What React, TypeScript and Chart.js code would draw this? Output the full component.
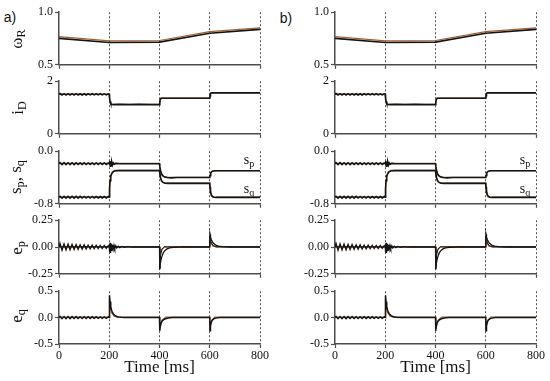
import React, { useEffect, useRef } from "react";
import { Chart, registerables } from "chart.js";
Chart.register(...registerables);

const BLACK = "#141414";
const BROWN = "#a65e2e";
const AXIS = "#4d4d4d";
const SERIF = "'Liberation Serif', 'DejaVu Serif', serif";

const xTickValues = [0, 200, 400, 600, 800];
const xTickLabels = ["0", "200", "400", "600", "800"];

// ripple sample times for the first 200 ms
const tRipple = [0, 4, 12, 20, 28, 36, 44, 52, 60, 68, 76, 84, 92, 100, 108, 116, 124, 132, 140, 148, 156, 164, 172, 180, 188, 196];

// omega_R
const wTime = [0, 200, 400, 600, 800];
const wMeasured = [0.752, 0.712, 0.716, 0.8, 0.836];
const wReference = [0.768, 0.727, 0.731, 0.815, 0.851];

// i_D
const iRipple = [1.5, 1.53, 1.475, 1.525, 1.475, 1.525, 1.475, 1.525, 1.475, 1.525, 1.477, 1.523, 1.477, 1.523, 1.477, 1.523, 1.478, 1.522, 1.478, 1.522, 1.478, 1.522, 1.479, 1.521, 1.479, 1.521];
const iTailTime = [200, 201, 203, 206, 210, 216, 240, 280, 320, 360, 400, 401, 403, 406, 410, 450, 500, 550, 600, 601, 603, 606, 610, 650, 700, 750, 800];
const iTail = [1.5, 1.4, 1.24, 1.15, 1.12, 1.11, 1.12, 1.11, 1.12, 1.11, 1.11, 1.2, 1.3, 1.34, 1.35, 1.35, 1.35, 1.35, 1.35, 1.45, 1.53, 1.55, 1.555, 1.555, 1.555, 1.555, 1.555];
const iRefTime = [0, 200, 201, 206, 400, 401, 405, 600, 601, 605, 800];
const iRef = [1.51, 1.51, 1.3, 1.12, 1.12, 1.28, 1.355, 1.355, 1.5, 1.565, 1.565];

// s_p
const spRipple = [-0.19, -0.175, -0.205, -0.175, -0.205, -0.176, -0.204, -0.176, -0.204, -0.177, -0.203, -0.177, -0.203, -0.177, -0.203, -0.178, -0.202, -0.178, -0.202, -0.178, -0.202, -0.179, -0.201, -0.179, -0.201, -0.18];
const spTailTime = [200, 202, 204, 206, 208, 210, 213, 216, 220, 226, 240, 300, 400, 401, 404, 408, 413, 420, 430, 445, 470, 600, 601, 604, 608, 614, 622, 640, 800];
const spTail = [-0.19, -0.15, -0.23, -0.155, -0.22, -0.165, -0.21, -0.178, -0.198, -0.186, -0.19, -0.19, -0.19, -0.23, -0.29, -0.34, -0.37, -0.39, -0.4, -0.405, -0.4, -0.4, -0.37, -0.33, -0.31, -0.3, -0.297, -0.297, -0.297];
const spRefTime = [0, 400, 403, 410, 420, 440, 600, 603, 610, 620, 800];
const spRef = [-0.185, -0.185, -0.3, -0.37, -0.395, -0.398, -0.398, -0.33, -0.305, -0.295, -0.295];

// s_q
const sqRipple = [-0.7, -0.687, -0.715, -0.686, -0.714, -0.686, -0.714, -0.687, -0.713, -0.687, -0.713, -0.687, -0.713, -0.688, -0.712, -0.688, -0.712, -0.688, -0.712, -0.689, -0.711, -0.689, -0.711, -0.689, -0.711, -0.69];
const sqTailTime = [200, 201, 203, 206, 210, 215, 222, 235, 300, 400, 401, 404, 408, 414, 422, 435, 460, 600, 601, 603, 606, 610, 616, 625, 650, 800];
const sqTail = [-0.7, -0.58, -0.45, -0.38, -0.34, -0.315, -0.3, -0.295, -0.295, -0.295, -0.33, -0.4, -0.45, -0.475, -0.487, -0.49, -0.49, -0.49, -0.55, -0.62, -0.67, -0.69, -0.7, -0.703, -0.703, -0.703];
const sqRefTime = [0, 200, 202, 206, 212, 222, 400, 403, 410, 420, 440, 600, 603, 608, 615, 630, 800];
const sqRef = [-0.695, -0.695, -0.5, -0.37, -0.32, -0.29, -0.29, -0.4, -0.46, -0.485, -0.487, -0.487, -0.6, -0.67, -0.695, -0.698, -0.698];

// e_p
const epRipple = [0.0, 0.034, -0.03, 0.03, -0.028, 0.027, -0.026, 0.025, -0.024, 0.023, -0.022, 0.021, -0.02, 0.02, -0.019, 0.018, -0.018, 0.017, -0.016, 0.016, -0.015, 0.015, -0.014, 0.014, -0.013, 0.013];
const epTailTime = [200, 201, 202, 203, 204, 205, 206, 207, 208, 210, 212, 214, 216, 219, 222, 226, 230, 236, 242, 250, 260, 272, 290, 320, 400, 401, 403, 406, 410, 415, 422, 430, 440, 455, 480, 520, 600, 601, 603, 606, 610, 616, 624, 635, 650, 680, 800];
const epTail = [0.0, 0.03, -0.05, 0.04, -0.055, 0.035, -0.045, 0.03, -0.04, 0.025, -0.03, 0.02, -0.02, 0.015, -0.015, 0.012, -0.01, 0.008, -0.006, 0.005, -0.004, 0.003, -0.002, 0.0, 0.0, -0.21, -0.16, -0.12, -0.085, -0.055, -0.032, -0.018, -0.009, -0.004, -0.001, 0.0, 0.0, 0.12, 0.095, 0.07, 0.05, 0.032, 0.018, 0.008, 0.003, 0.0, 0.0];
const epFanTime = [0, 400, 401, 404, 410, 420, 600, 601, 605, 612, 625, 800];
const epFan = [0, 0, -0.2, -0.08, -0.02, 0, 0, 0.11, 0.05, 0.015, 0, 0];
const epRefTime = [0, 400, 401, 410, 420, 600, 601, 612, 625, 800];
const epRef = [0.004, 0.004, -0.06, -0.02, 0.004, 0.004, 0.05, 0.01, 0.004, 0.004];

// e_q
const eqRipple = [0.0, 0.022, -0.02, 0.021, -0.02, 0.02, -0.019, 0.019, -0.018, 0.018, -0.018, 0.017, -0.017, 0.017, -0.016, 0.016, -0.016, 0.015, -0.015, 0.015, -0.014, 0.014, -0.014, 0.013, -0.013, 0.013];
const eqTailTime = [200, 201, 203, 206, 210, 215, 221, 228, 236, 246, 260, 280, 400, 401, 403, 406, 410, 416, 424, 435, 450, 600, 601, 603, 606, 610, 616, 624, 640, 800];
const eqTail = [0.0, 0.42, 0.3, 0.2, 0.13, 0.08, 0.045, 0.025, 0.012, 0.005, 0.001, 0.0, 0.0, -0.25, -0.17, -0.11, -0.07, -0.04, -0.02, -0.008, 0.0, 0.0, -0.25, -0.15, -0.09, -0.05, -0.025, -0.01, 0.0, 0.0];
const eqRefTime = [0, 200, 201, 208, 220, 235, 400, 401, 410, 425, 600, 601, 608, 620, 800];
const eqRef = [0.01, 0.01, 0.35, 0.1, 0.02, 0.01, 0.01, -0.2, -0.05, 0.01, 0.01, -0.2, -0.05, 0.01, 0.01];

type Series = { t: number[]; v: number[]; color: string; width: number };
type Panel = {
  top: number;
  height: number;
  min: number;
  max: number;
  ticks: number[];
  labels: string[];
  series: Series[];
};

// first listed series is drawn on top
const panels: Panel[] = [
  {
    top: 11, height: 57, min: 0.5, max: 1.0, ticks: [0.5, 1.0], labels: ["0.5", "1.0"],
    series: [
      { t: wTime, v: wMeasured, color: BLACK, width: 1.7 },
      { t: wTime, v: wReference, color: BROWN, width: 1.2 },
    ],
  },
  {
    top: 80, height: 57, min: 0, max: 2, ticks: [0, 2], labels: ["0", "2"],
    series: [
      { t: [...tRipple, ...iTailTime], v: [...iRipple, ...iTail], color: BLACK, width: 1.6 },
      { t: iRefTime, v: iRef, color: BROWN, width: 1.2 },
    ],
  },
  {
    top: 150, height: 57, min: -0.8, max: 0, ticks: [-0.8, 0], labels: ["-0.8", "0.0"],
    series: [
      { t: [...tRipple, ...spTailTime], v: [...spRipple, ...spTail], color: BLACK, width: 1.6 },
      { t: [...tRipple, ...sqTailTime], v: [...sqRipple, ...sqTail], color: BLACK, width: 1.6 },
      { t: spRefTime, v: spRef, color: BROWN, width: 1.2 },
      { t: sqRefTime, v: sqRef, color: BROWN, width: 1.2 },
    ],
  },
  {
    top: 219, height: 58, min: -0.25, max: 0.25, ticks: [-0.25, 0, 0.25], labels: ["-0.25", "0.00", "0.25"],
    series: [
      { t: [...tRipple, ...epTailTime], v: [...epRipple, ...epTail], color: BLACK, width: 1.3 },
      { t: epFanTime, v: epFan, color: BLACK, width: 1 },
      { t: epRefTime, v: epRef, color: BROWN, width: 1.2 },
    ],
  },
  {
    top: 290, height: 54, min: -0.5, max: 0.5, ticks: [-0.5, 0, 0.5], labels: ["-0.5", "0.0", "0.5"],
    series: [
      { t: [...tRipple, ...eqTailTime], v: [...eqRipple, ...eqTail], color: BLACK, width: 1.5 },
      { t: eqRefTime, v: eqRef, color: BROWN, width: 1.2 },
    ],
  },
];

const PLOT_W = 201;
const YW = 40;
const PT = 8;
const PR = 14;

function Plot({ x0, panel, bottom }: { x0: number; panel: Panel; bottom: boolean }) {
  const ref = useRef<HTMLCanvasElement>(null);
  const XH = bottom ? 24 : 6;
  const w = YW + PLOT_W + PR;
  const h = PT + panel.height + XH;
  useEffect(() => {
    if (!ref.current) return;
    const font = { family: SERIF, size: 12 };
    const chart = new Chart(ref.current, {
      type: "line",
      data: {
        datasets: panel.series.map((s) => ({
          data: s.t.map((t, i) => ({ x: t, y: s.v[i] })),
          borderColor: s.color,
          borderWidth: s.width,
          pointRadius: 0,
          tension: 0,
          fill: false,
        })),
      },
      options: {
        responsive: false,
        animation: false,
        devicePixelRatio: 1,
        layout: { padding: { top: PT, right: PR, left: 0, bottom: 0 } },
        plugins: { legend: { display: false }, tooltip: { enabled: false } },
        scales: {
          x: {
            type: "linear",
            min: 0,
            max: 800,
            afterBuildTicks: (s: any) => {
              s.ticks = xTickValues.map((v) => ({ value: v }));
            },
            afterFit: (s: any) => {
              s.height = XH;
            },
            ticks: {
              display: bottom,
              font,
              color: "#111",
              padding: 1,
              maxRotation: 0,
              autoSkip: false,
              callback: (_v: any, i: number) => xTickLabels[i],
            },
            grid: {
              color: (ctx: any) => (ctx.tick && ctx.tick.value === 0 ? "rgba(0,0,0,0)" : "#555"),
              lineWidth: 1,
              drawTicks: true,
              tickLength: 4,
              tickColor: AXIS,
              tickWidth: 1.2,
            },
            border: { display: true, color: AXIS, width: 1.5, dash: [2, 2] },
          },
          y: {
            type: "linear",
            min: panel.min,
            max: panel.max,
            afterBuildTicks: (s: any) => {
              s.ticks = panel.ticks.map((v) => ({ value: v }));
            },
            afterFit: (s: any) => {
              s.width = YW;
            },
            ticks: {
              font,
              color: "#111",
              padding: 2,
              autoSkip: false,
              callback: (_v: any, i: number) => panel.labels[i],
            },
            grid: { drawOnChartArea: false, drawTicks: true, tickLength: 4, tickColor: AXIS, tickWidth: 1.2 },
            border: { display: true, color: AXIS, width: 1.5 },
          },
        },
      } as any,
    });
    return () => chart.destroy();
  }, []);
  return (
    <canvas
      ref={ref}
      width={w}
      height={h}
      style={{ position: "absolute", left: x0 - YW, top: panel.top - PT, width: w, height: h }}
    />
  );
}

const Sub = ({ children }: { children: React.ReactNode }) => (
  <span style={{ fontSize: "0.72em", verticalAlign: "-0.3em" }}>{children}</span>
);

function YLabel({ cx, cy, children }: { cx: number; cy: number; children: React.ReactNode }) {
  return (
    <div
      style={{
        position: "absolute",
        left: cx,
        top: cy,
        transform: "translate(-50%, -50%) rotate(-90deg)",
        whiteSpace: "nowrap",
        fontFamily: SERIF,
        fontSize: 17,
        lineHeight: "17px",
        color: "#111",
      }}
    >
      {children}
    </div>
  );
}

function Text({ cx, cy, size, family, children }: { cx: number; cy: number; size: number; family: string; children: React.ReactNode }) {
  return (
    <div
      style={{
        position: "absolute",
        left: cx,
        top: cy,
        transform: "translate(-50%, -50%)",
        whiteSpace: "nowrap",
        fontFamily: family,
        fontSize: size,
        lineHeight: `${size}px`,
        color: "#111",
      }}
    >
      {children}
    </div>
  );
}

export default function App() {
  const cols = [59, 335];
  return (
    <div style={{ position: "fixed", left: 0, top: 0, width: 550, height: 381, background: "#fff", overflow: "hidden" }}>
      {cols.map((x0) =>
        panels.map((p, k) => <Plot key={`${x0}-${k}`} x0={x0} panel={p} bottom={k === panels.length - 1} />)
      )}
      <Text cx={10} cy={17} size={14} family="'Liberation Sans', Arial, sans-serif">a)</Text>
      <Text cx={286} cy={18} size={14} family="'Liberation Sans', Arial, sans-serif">b)</Text>
      <YLabel cx={19} cy={39}>ω<Sub>R</Sub></YLabel>
      <YLabel cx={20} cy={108}>i<Sub>D</Sub></YLabel>
      <YLabel cx={18} cy={177}>s<Sub>p</Sub>, s<Sub>q</Sub></YLabel>
      <YLabel cx={19} cy={248}>e<Sub>p</Sub></YLabel>
      <YLabel cx={19} cy={316}>e<Sub>q</Sub></YLabel>
      {cols.map((x0) => (
        <React.Fragment key={`ann-${x0}`}>
          <Text cx={x0 + 190} cy={162} size={14} family={SERIF}>s<Sub>p</Sub></Text>
          <Text cx={x0 + 190} cy={191} size={14} family={SERIF}>s<Sub>q</Sub></Text>
          <Text cx={x0 + 100.5} cy={366} size={17} family={SERIF}>Time [ms]</Text>
        </React.Fragment>
      ))}
    </div>
  );
}
